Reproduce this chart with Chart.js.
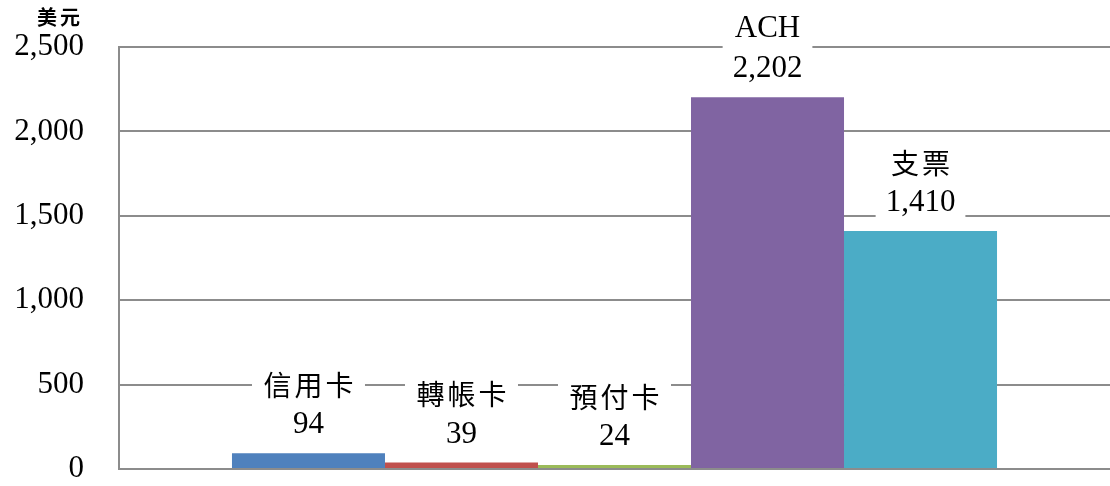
<!DOCTYPE html>
<html>
<head>
<meta charset="utf-8">
<script src="https://cdn.jsdelivr.net/npm/chart.js@4"></script>
<style>
  html, body { margin: 0; padding: 0; background: #ffffff; overflow: hidden; }
  canvas { display: block; }
</style>
</head>
<body>
<canvas id="paymentChart" width="1110" height="486"></canvas>
<script>
// Payment types and amounts (US dollars)
const paymentTypes = ['信用卡', '轉帳卡', '預付卡', 'ACH', '支票'];
const paymentValues = [94, 39, 24, 2202, 1410];
const barColors = ['#4F81BD', '#C0504D', '#9BBB59', '#8064A2', '#4BACC6'];
const yTicks = [0, 500, 1000, 1500, 2000, 2500];
const unitLabel = '美元';

const serif = '"Liberation Serif", "Times New Roman", serif';
const cjk = '"Noto Sans CJK TC", sans-serif';

// Name + value label above each bar, on a white box that hides the grid
const barLabels = {
    id: 'barLabels',
    afterDatasetsDraw(chart) {
        const ctx = chart.ctx;
        ctx.save();
        ctx.textAlign = 'center';
        ctx.textBaseline = 'middle';
        chart.data.datasets.forEach((ds, i) => {
            const bar = chart.getDatasetMeta(i).data[0];
            const name = ds.label;
            const value = ds.data[0].toLocaleString('en-US');
            const isCjk = /[\u4e00-\u9fff]/.test(name);
            const nameFont = isCjk ? '28px ' + cjk : '31px ' + serif;
            const spacing = isCjk ? '3px' : '0px';

            ctx.font = nameFont;
            ctx.letterSpacing = spacing;
            const nameW = ctx.measureText(name).width;
            ctx.font = '31px ' + serif;
            ctx.letterSpacing = '0px';
            const valueW = ctx.measureText(value).width;

            const valueY = bar.y - 28;
            const nameY = bar.y - 68;
            const w = Math.max(nameW, valueW) + 20;
            ctx.fillStyle = '#ffffff';
            ctx.fillRect(bar.x - w / 2, nameY - 20, w, valueY - nameY + 38);

            ctx.fillStyle = '#000000';
            ctx.font = nameFont;
            ctx.letterSpacing = spacing;
            ctx.fillText(name, bar.x + (isCjk ? 1.5 : 0), nameY);
            ctx.font = '31px ' + serif;
            ctx.letterSpacing = '0px';
            ctx.fillText(value, bar.x, valueY);
        });
        // unit caption above the y axis
        ctx.font = 'bold 20px ' + cjk;
        ctx.letterSpacing = '3px';
        ctx.fillText(unitLabel, 60, 17);
        ctx.restore();
    }
};

function buildDatasets() {
    return paymentTypes.map((name, i) => ({
        label: name,
        data: [paymentValues[i]],
        backgroundColor: barColors[i],
        barPercentage: 1,
        categoryPercentage: 0.772
    }));
}

new Chart(document.getElementById('paymentChart'), {
    type: 'bar',
    data: {
        labels: [''],
        datasets: buildDatasets()
    },
    options: {
        responsive: false,
        animation: false,
        layout: {
            padding: { top: 47, right: 0, bottom: 17, left: 0 }
        },
        plugins: {
            legend: { display: false },
            tooltip: { enabled: false }
        },
        scales: {
            x: {
                display: false
            },
            y: {
                min: 0,
                max: 2500,
                afterFit(scale) {
                    // fixed axis width; let layout padding alone set top/bottom
                    scale.width = 119;
                    scale.paddingTop = 0;
                    scale.paddingBottom = 0;
                },
                afterBuildTicks(scale) {
                    scale.ticks = yTicks.map(v => ({ value: v }));
                },
                grid: {
                    color: '#8c8c8c',
                    lineWidth: 2,
                    drawTicks: false
                },
                border: {
                    color: '#8c8c8c',
                    width: 2
                },
                ticks: {
                    padding: 35,
                    color: '#000000',
                    font: { family: serif, size: 31 },
                    callback: v => v.toLocaleString('en-US')
                }
            }
        }
    },
    plugins: [barLabels]
});
</script>
</body>
</html>
